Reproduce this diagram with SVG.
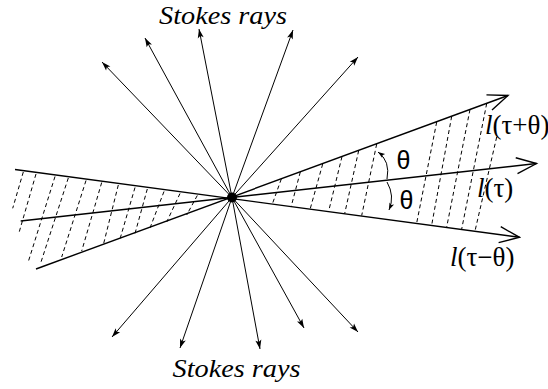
<svg xmlns="http://www.w3.org/2000/svg" width="548" height="389" viewBox="0 0 548 389">
<style>
  .ray{stroke:#000;stroke-width:1;fill:none;marker-end:url(#sa)}
  .lline{stroke:#000;stroke-width:1.4;fill:none}
  .hatch{stroke:#000;stroke-width:1;stroke-dasharray:4 3;fill:none}
  .arc{stroke:#000;stroke-width:1;fill:none;marker-end:url(#ta)}
  .stokes{font-family:"Liberation Serif","Times New Roman",serif;font-style:italic;font-size:26px;fill:#000}
  .lab{font-family:"Liberation Serif","Times New Roman",serif;font-size:27px;fill:#000}
  .it{font-style:italic}
  .th{font-family:"Liberation Sans",Arial,sans-serif;font-size:25px;fill:#000}
</style>
<defs>
  <marker id="sa" viewBox="-10 -5 12 10" refX="0" refY="0" markerWidth="12" markerHeight="10" orient="auto" markerUnits="userSpaceOnUse">
    <path d="M0,0 L-9,-3 L-7,0 L-9,3 Z" fill="#000"/>
  </marker>
  <marker id="ta" viewBox="-8 -4 10 8" refX="0" refY="0" markerWidth="10" markerHeight="8" orient="auto" markerUnits="userSpaceOnUse">
    <path d="M0,0 L-7,-2.5 L-5.5,0 L-7,2.5 Z" fill="#000"/>
  </marker>
  <marker id="oa" viewBox="-22 -10 24 20" refX="0" refY="0" markerWidth="24" markerHeight="20" orient="auto" markerUnits="userSpaceOnUse">
    <path d="M-20,-8 L0,0 L-20,8" fill="none" stroke="#000" stroke-width="1.4"/>
  </marker>
</defs>
<rect width="548" height="389" fill="#fff"/>

<g id="hatching">
  <path class="hatch" d="M23.3,172 L12.7,208.3 M36,174 L19.3,231.7 M55,176.5 L28.3,261.7 M68.3,178 L40.7,263 M86,180.5 L61.7,257 M101.7,182.5 L81.7,251 M118.3,185 L103.3,245 M135,187.5 L120,239 M147.3,189 L135,233.5 M164,191.5 L150,228 M180,193.5 L166.7,222 M197.3,195.5 L186.7,215"/>
  <path class="hatch" d="M281.3,179 L272.7,203 M300.3,172 L291.3,206 M322.7,164 L310.3,208.5 M342,156.6 L328.7,211 M358.7,150.5 L344.7,213.5 M376.7,144 L361.7,215.5 M436.7,122 L416.7,223 M451.7,116.3 L431.7,225 M470,109.5 L446.7,227 M486.7,103.5 L461.7,229 M496.7,137 L475,231"/>
</g>

<g id="connectors">
  <line class="ray" x1="232" y1="197.5" x2="102" y2="62"/>
  <line class="ray" x1="232" y1="197.5" x2="145" y2="38"/>
  <line class="ray" x1="232" y1="197.5" x2="199" y2="29"/>
  <line class="ray" x1="232" y1="197.5" x2="293" y2="30"/>
  <line class="ray" x1="232" y1="197.5" x2="358" y2="57"/>
  <line class="ray" x1="232" y1="197.5" x2="112" y2="337"/>
  <line class="ray" x1="232" y1="197.5" x2="180" y2="348"/>
  <line class="ray" x1="232" y1="197.5" x2="260" y2="349"/>
  <line class="ray" x1="232" y1="197.5" x2="304" y2="328"/>
  <line class="ray" x1="232" y1="197.5" x2="358" y2="332"/>
  <line id="l-tau-plus" class="lline" x1="36" y1="269" x2="508" y2="95.5" marker-end="url(#oa)"/>
  <line id="l-tau" class="lline" x1="20.7" y1="221" x2="536.5" y2="163.5" marker-end="url(#oa)"/>
  <line id="l-tau-minus" class="lline" x1="15" y1="169.5" x2="519.5" y2="237.3" marker-end="url(#oa)"/>
  <path class="arc" d="M387,179 Q390.5,161 378,152"/>
  <path class="arc" d="M387,182 Q395,196 389,210"/>
</g>

<g id="center">
  <circle cx="232" cy="197.5" r="5" fill="#000"/>
</g>

<g id="label-stokes-top">
  <text class="stokes" x="159" y="23.5" textLength="128" lengthAdjust="spacingAndGlyphs">Stokes rays</text>
</g>
<g id="label-stokes-bottom">
  <text class="stokes" x="172.5" y="377" textLength="128" lengthAdjust="spacingAndGlyphs">Stokes rays</text>
</g>
<g id="label-l-tau-plus">
  <text class="lab" x="485" y="134"><tspan class="it">l</tspan>(τ+θ)</text>
</g>
<g id="label-l-tau">
  <text class="lab" x="477" y="197"><tspan class="it">l</tspan>(τ)</text>
</g>
<g id="label-l-tau-minus">
  <text class="lab" x="450" y="265.5"><tspan class="it">l</tspan>(τ−θ)</text>
</g>
<g id="label-theta-up">
  <text class="th" x="403.5" y="168.5" text-anchor="middle">θ</text>
</g>
<g id="label-theta-down">
  <text class="th" x="406.5" y="209" text-anchor="middle">θ</text>
</g>
</svg>
